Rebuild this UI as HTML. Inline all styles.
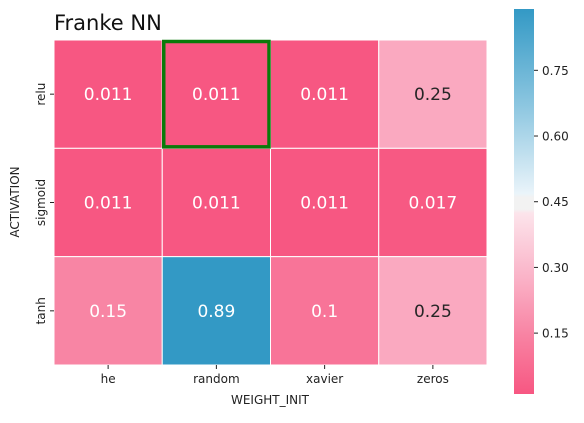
<!DOCTYPE html>
<html><head><meta charset="utf-8"><style>
body{margin:0;background:#fff;}
svg text{font-family:"DejaVu Sans","Liberation Sans",sans-serif;}
</style></head><body>
<svg id="chart" width="584" height="418">
<defs><linearGradient id="cbg" x1="0" y1="1" x2="0" y2="0">
<stop offset="0" stop-color="rgb(247,87,130)"/>
<stop offset="0.15" stop-color="rgb(248,130,162)"/>
<stop offset="0.3" stop-color="rgb(250,178,199)"/>
<stop offset="0.47" stop-color="rgb(252,228,235)"/>
<stop offset="0.48" stop-color="rgb(242,242,242)"/>
<stop offset="0.51" stop-color="rgb(242,242,242)"/>
<stop offset="0.52" stop-color="rgb(234,244,250)"/>
<stop offset="0.75" stop-color="rgb(140,198,224)"/>
<stop offset="1" stop-color="rgb(51,153,197)"/>
</linearGradient></defs>
<text x="54" y="30" font-size="21" fill="#111">Franke NN</text>
<g id="cells"></g>
<rect x="514" y="9" width="20" height="385" fill="url(#cbg)"/>
<g id="cbticks"></g>
<text x="270" y="404" font-size="12" text-anchor="middle" fill="#222">WEIGHT_INIT</text>
<text transform="translate(19,202) rotate(-90)" font-size="12" text-anchor="middle" fill="#222">ACTIVATION</text>
</svg>
<script>
const cols = ["he","random","xavier","zeros"];
const rows = ["relu","sigmoid","tanh"];
const vals = [[0.011,0.011,0.011,0.25],[0.011,0.011,0.011,0.017],[0.15,0.89,0.1,0.25]];
const labels = [["0.011","0.011","0.011","0.25"],["0.011","0.011","0.011","0.017"],["0.15","0.89","0.1","0.25"]];
const cbTicks = [0.15,0.30,0.45,0.60,0.75];
const highlight = [0,1];
const vmin=0.011, vmax=0.89;
const ns="http://www.w3.org/2000/svg";
const X0=54,Y0=40,W=433,H=325,cw=W/cols.length,rh=H/rows.length;
const stops=[[0,[247,87,130]],[0.15,[248,130,162]],[0.3,[250,178,199]],[0.47,[252,228,235]],[0.5,[242,242,242]],[0.53,[234,244,250]],[0.75,[140,198,224]],[1,[51,153,197]]];
function col(v){const t=(v-vmin)/(vmax-vmin);
 for(let k=1;k<stops.length;k++){if(t<=stops[k][0]){const a=stops[k-1],b=stops[k];const u=(t-a[0])/(b[0]-a[0]);
  return `rgb(${a[1].map((x,i)=>Math.round(x+(b[1][i]-x)*u)).join(',')})`;}}
 return 'rgb(51,153,197)';}
function el(t,at,p){const e=document.createElementNS(ns,t);for(const k in at)e.setAttribute(k,at[k]);p.appendChild(e);return e;}
const g=document.getElementById('cells');
rows.forEach((r,i)=>cols.forEach((c,j)=>{
 const v=vals[i][j];
 const rc=el('rect',{x:X0+j*cw,y:Y0+i*rh,width:cw,height:rh,fill:col(v),stroke:'#fff','stroke-width':1},g);
 
 
 const t=(v-vmin)/(vmax-vmin);
 const tx=el('text',{x:X0+j*cw+cw/2,y:Y0+i*rh+rh/2+6,'font-size':17,'text-anchor':'middle',fill:(t>0.2&&t<0.8)?'#262626':'#fff'},g);
 tx.textContent=labels[i][j];
 
 
}));
cols.forEach((c,j)=>{const x=X0+j*cw+cw/2;
 el('line',{x1:x,x2:x,y1:Y0+H,y2:Y0+H+4,stroke:'#222'},g);
 const t=el('text',{x:x,y:Y0+H+18,'font-size':12,'text-anchor':'middle',fill:'#222'},g);t.textContent=c;
 
 });
rows.forEach((r,i)=>{const y=Y0+i*rh+rh/2;
 el('line',{x1:X0-4,x2:X0,y1:y,y2:y,stroke:'#222'},g);
 const t=el('text',{transform:`translate(${X0-9},${y}) rotate(-90)`,'font-size':12,'text-anchor':'middle',fill:'#222'},g);t.textContent=r;
 
 });
const hb=el('rect',{x:X0+highlight[1]*cw+1.5,y:Y0+highlight[0]*rh+1.5,width:cw-3,height:rh-3,fill:'none',stroke:'#0a7a0a','stroke-width':3.5},g);


const cb=document.getElementById('cbticks');
const cy=v=>9+(vmax-v)/(vmax-vmin)*385;
cbTicks.forEach(v=>{const y=cy(v);
 el('line',{x1:534,x2:538,y1:y,y2:y,stroke:'#222'},cb);
 const t=el('text',{x:542,y:y+4.5,'font-size':12,fill:'#222'},cb);t.textContent=v.toFixed(2);
 
 });
</script>
</body></html>
